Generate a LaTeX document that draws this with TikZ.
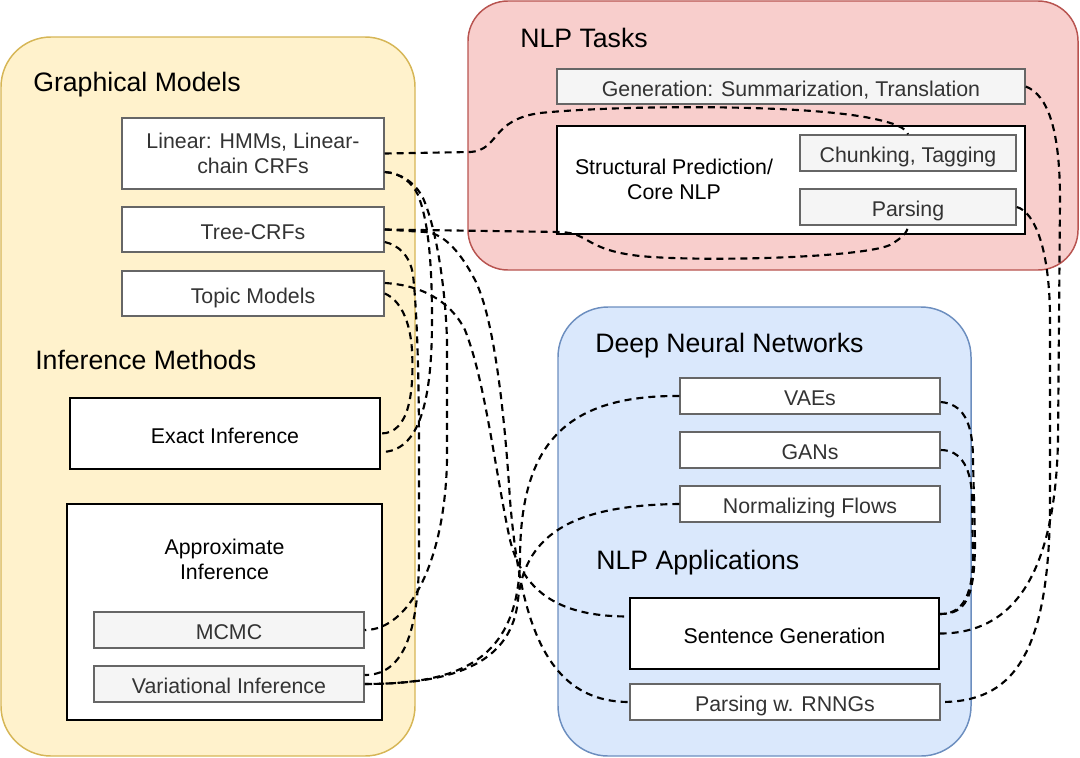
\documentclass[tikz,border=0pt]{standalone}
\usepackage{fontspec}
\setmainfont{Liberation Sans}
\usetikzlibrary{calc}
\definecolor{ylfill}{HTML}{FFF2CC}\definecolor{ylline}{HTML}{D6B656}
\definecolor{rdfill}{HTML}{F8CECC}\definecolor{rdline}{HTML}{B85450}
\definecolor{blfill}{HTML}{DAE8FC}\definecolor{blline}{HTML}{6C8EBF}
\definecolor{gbox}{HTML}{666666}\definecolor{gtext}{HTML}{333333}\definecolor{gfill}{HTML}{F5F5F5}
\tikzset{
 sz/.style 2 args={minimum width=#1*0.75pt, minimum height=#2*0.75pt},
 grp/.style={line width=1.1pt, inner sep=0pt},
 hdr/.style={anchor=base west, inner sep=0pt, font=\fontsize{20}{24}\selectfont},
 gbx/.style={draw=gbox, line width=1.1pt, fill=white, text=gtext, inner sep=0pt, align=center, font=\fontsize{16}{18.8}\selectfont},
 gbxf/.style={gbx, fill=gfill},
 kbx/.style={draw=black, line width=1.5pt, fill=white, text=black, inner sep=0pt, align=center, font=\fontsize{16}{18.8}\selectfont},
 oneline/.style={text height=18.5pt, text depth=3.9pt},
 plain/.style={inner sep=0pt, align=center, text=black, font=\fontsize{16}{18.8}\selectfont},
 conn/.style={draw=black, line width=1.6pt, dash pattern=on 5.25pt off 3.75pt},
}
\begin{document}
\begin{tikzpicture}[x=0.75pt,y=-0.75pt]
\useasboundingbox (0,0) rectangle (1080,757);
% containers
\node[grp, draw=ylline, fill=ylfill, rounded corners=37.5pt, sz={414}{719}] (gm) at (208,396.5) {};
\node[grp, draw=rdline, fill=rdfill, rounded corners=30pt, sz={610}{269}] (nt) at (773,135.5) {};
\node[grp, draw=blline, fill=blfill, rounded corners=37.5pt, sz={413}{449}] (dn) at (764.5,531.5) {};
% headers
\node[hdr] (hgm) at (33,91.5) {Graphical Models};
\node[hdr] (him) at (35,369.5) {Inference Methods};
\node[hdr] (hnt) at (520,47.5) {NLP Tasks};
\node[hdr] (hdn) at (595,352.5) {Deep Neural Networks};
\node[hdr] (hna) at (596,569.5) {NLP Applications};
% left boxes
\node[gbx, sz={262}{71}] (lin) at (253,153.5) {Linear: HMMs, Linear-\\chain CRFs};
\node[gbx, oneline, sz={262}{45}] (tree) at (253,229.5) {Tree-CRFs};
\node[gbx, oneline, sz={262}{45}] (topic) at (253,293.5) {Topic Models};
\node[kbx, oneline, sz={310}{71}] (exact) at (225,433.5) {Exact Inference};
\node[kbx, sz={315}{216}] (approx) at (224.5,612) {};
\node[plain] (aptxt) at (224.5,559) {Approximate\\Inference};
\node[gbxf, oneline, sz={270}{36}] (mcmc) at (229,630) {MCMC};
\node[gbxf, oneline, sz={270}{36}] (vi) at (229,684) {Variational Inference};
% NLP tasks
\node[gbxf, oneline, sz={468}{35}] (gen) at (791,86.5) {Generation: Summarization, Translation};
\node[kbx, sz={468}{108}] (struct) at (791,180) {};
\node[plain] (sptxt) at (674,179.5) {Structural Prediction/\\Core NLP};
\node[gbxf, oneline, sz={216}{36}] (chunk) at (908,153) {Chunking, Tagging};
\node[gbxf, oneline, sz={216}{36}] (pars) at (908,207) {Parsing};
% DNN
\node[gbx, oneline, sz={260}{36}] (vae) at (810,396) {VAEs};
\node[gbx, oneline, sz={260}{36}] (gan) at (810,450) {GANs};
\node[gbx, oneline, sz={260}{36}] (nf) at (810,504) {Normalizing Flows};
\node[kbx, oneline, sz={309}{71}] (sent) at (784.5,633.5) {Sentence Generation};
\node[gbx, oneline, sz={310}{36}] (rnng) at (785,702) {Parsing w. RNNGs};
% connectors
\draw[conn] (lin.east) -- (470,152) .. controls (500,150) and (490,120) .. (540,113) .. controls (620,105) and (800,104) .. (870,118) .. controls (895,123) and (906,128) .. (chunk.north);
\draw[conn] (tree.east) -- (560,232) .. controls (590,233) and (585,250) .. (640,256) .. controls (700,262) and (860,258) .. (890,245) .. controls (902,238) and (908,232) .. (pars.south);
\draw[conn] (gen.east) .. controls (1048,95) and (1060,130) .. (1060,200) -- (1058,440) .. controls (1055,580) and (1010,633.5) .. (sent.east);
\draw[conn] (pars.east) .. controls (1035,212) and (1050,250) .. (1050,320) -- (1050,500) .. controls (1050,660) and (1010,702) .. (rnng.east);
\draw[conn] ($(vae.east)+(0,6)$) .. controls (962,404) and (973,420) .. (973,460) -- (975,540) .. controls (975,600) and (965,614) .. ($(sent.east)+(0,-19.5)$);
\draw[conn] (gan.east) .. controls (962,450) and (972,470) .. (972,500) -- (973,560) .. controls (972,600) and (960,614) .. ($(sent.east)+(0,-19.5)$);
\draw[conn] (vae.west) .. controls (560,395) and (520,450) .. (520,560) .. controls (518,660) and (460,684) .. (vi.east);
\draw[conn] (nf.west) .. controls (580,505) and (525,530) .. (518,600) .. controls (512,660) and (460,684) .. (vi.east);
\draw[conn] ($(topic.east)+(0,-10.5)$) .. controls (420,285) and (450,300) .. (465,330) .. controls (485,380) and (495,470) .. (510,540) .. controls (525,600) and (570,616.5) .. ($(sent.west)+(0,-17)$);
\draw[conn] (tree.east) -- (425,232) .. controls (445,233) and (462,255) .. (475,280) .. controls (495,320) and (505,420) .. (510,500) .. controls (520,620) and (545,702) .. (rnng.west);
\draw[conn] ($(lin.east)+(0,18.5)$) .. controls (400,173) and (412,182) .. (418,195) .. controls (428,220) and (432,260) .. (432,320) .. controls (432,400) and (420,452) .. ($(exact.east)+(0,18.5)$);
\draw[conn] ($(lin.east)+(0,18.5)$) .. controls (400,173) and (415,182) .. (423,198) .. controls (435,225) and (445,280) .. (447,340) -- (447,460) .. controls (445,560) and (410,630) .. (mcmc.east);
\draw[conn] (topic.east) .. controls (400,300) and (410,320) .. (412,350) .. controls (414,390) and (410,433.5) .. (exact.east);
\draw[conn] ($(tree.east)+(0,12.5)$) .. controls (398,245) and (410,255) .. (413,275) .. controls (418,320) and (419,400) .. (419,450) -- (419,560) .. controls (418,640) and (400,675) .. ($(vi.east)+(0,-9)$);
\end{tikzpicture}
\end{document}
